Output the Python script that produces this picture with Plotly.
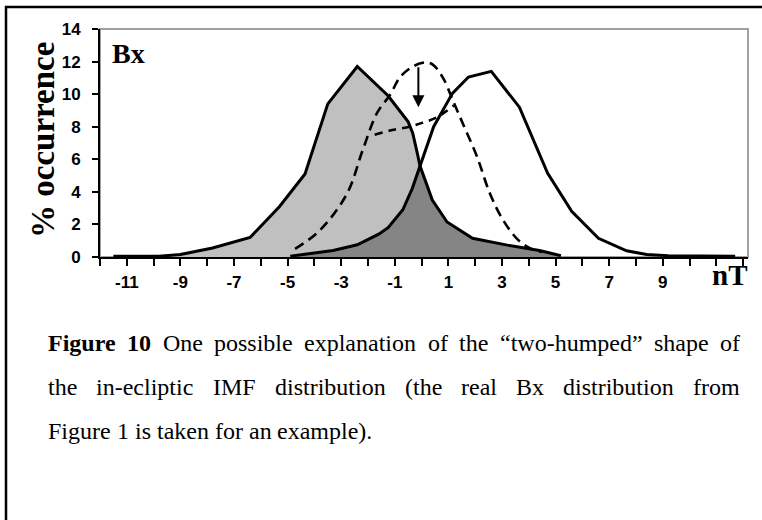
import numpy as np
import plotly.graph_objects as go

# ---- data ----
left_x = [-11.5, -9.8, -9.0, -7.8, -6.4, -5.3, -4.35, -3.5, -2.4, -1.25, -0.5, -0.33, -0.15, -0.06, 0.4, 0.95, 1.9, 3.2, 4.4, 5.2]
left_y = [0.05, 0.05, 0.15, 0.55, 1.2, 3.1, 5.1, 9.4, 11.7, 9.9, 8.3, 7.6, 6.3, 5.6, 3.5, 2.15, 1.15, 0.73, 0.4, 0.08]

right_x = [-4.9, -3.3, -2.4, -2.0, -1.6, -1.25, -0.92, -0.7, -0.35, -0.06, 0.45, 1.15, 1.75, 2.6, 3.65, 4.7, 5.6, 6.6, 7.65, 8.4, 9.2, 11.7]
right_y = [0.05, 0.4, 0.75, 1.05, 1.4, 1.8, 2.5, 2.9, 4.2, 5.6, 8.0, 10.05, 11.05, 11.4, 9.2, 5.15, 2.8, 1.15, 0.38, 0.15, 0.08, 0.05]

hump_x = [-4.72, -3.79, -2.78, -2.19, -1.66, -1.18, -0.8, -0.32, 0.15, 0.43, 0.8, 1.17, 1.55, 2.07, 2.55, 3.04, 3.6, 4.04, 4.5]
hump_y = [0.5, 1.65, 3.9, 6.6, 8.85, 9.95, 11.05, 11.7, 11.95, 11.8, 11.0, 9.6, 8.15, 6.15, 3.9, 2.27, 1.05, 0.55, 0.3]

dip_x = [-1.75, -1.1, -0.45, 0.05, 0.6, 1.2]
dip_y = [7.5, 7.8, 8.0, 8.25, 8.6, 9.3]

arrow_x = -0.12
arrow_from = 11.75
arrow_to = 9.2

x_ticks = [-11, -9, -7, -5, -3, -1, 1, 3, 5, 7, 9]
x_minor = list(range(-12, 13))
y_ticks = [0, 2, 4, 6, 8, 10, 12, 14]

caption_lines = [
    [("Figure", True), ("10", True), ("One", False), ("possible", False), ("explanation", False),
     ("of", False), ("the", False), ("\u201ctwo-humped\u201d", False), ("shape", False), ("of", False)],
    [("the", False), ("in-ecliptic", False), ("IMF", False), ("distribution", False), ("(the", False),
     ("real", False), ("Bx", False), ("distribution", False), ("from", False)],
    [("Figure", False), ("1", False), ("is", False), ("taken", False), ("for", False), ("an", False),
     ("example).", False)],
]

# ---- layout geometry (pixels) ----
W, H = 762, 520
L, R, T, B = 100, 748, 29, 257
pw, ph = R - L, B - T


def px(xp):
    return (xp - L) / pw


def py(yp):
    return (B - yp) / ph


fig = go.Figure()

# light grey area under left distribution
fig.add_trace(go.Scatter(x=left_x, y=left_y, mode="lines", fill="tozeroy",
                         fillcolor="#c0c0c0", line=dict(color="rgba(0,0,0,0)", width=0),
                         hoverinfo="skip", showlegend=False))
# dark grey overlap
g = np.linspace(max(left_x[0], right_x[0]), min(left_x[-1], right_x[-1]), 800)
ov = np.minimum(np.interp(g, left_x, left_y), np.interp(g, right_x, right_y))
fig.add_trace(go.Scatter(x=g, y=ov, mode="lines", fill="tozeroy", fillcolor="#858585",
                         line=dict(color="rgba(0,0,0,0)", width=0), hoverinfo="skip", showlegend=False))
# outlines
fig.add_trace(go.Scatter(x=right_x, y=right_y, mode="lines", line=dict(color="black", width=3),
                         showlegend=False))
fig.add_trace(go.Scatter(x=left_x, y=left_y, mode="lines", line=dict(color="black", width=3),
                         showlegend=False))
fig.add_trace(go.Scatter(x=hump_x, y=hump_y, mode="lines", line_shape="spline",
                         line=dict(color="black", width=2.6, dash="10px,6px"), showlegend=False))
fig.add_trace(go.Scatter(x=dip_x, y=dip_y, mode="lines", line_shape="spline",
                         line=dict(color="black", width=2.6, dash="8px,6px"), showlegend=False))

ann = []
ann.append(dict(x=arrow_x, y=arrow_to, ax=arrow_x, ay=arrow_from, xref="x", yref="y",
                axref="x", ayref="y", text="", showarrow=True, arrowhead=2, arrowsize=1.2,
                arrowwidth=2, arrowcolor="black"))
ann.append(dict(x=px(110), y=py(53.5), xref="paper", yref="paper", xanchor="left", yanchor="middle",
                text="<b>Bx</b>", showarrow=False,
                font=dict(family="Liberation Serif", size=28, color="black")))
ann.append(dict(x=px(749), y=py(275), xref="paper", yref="paper", xanchor="right", yanchor="middle",
                text="<b>nT</b>", showarrow=False,
                font=dict(family="Liberation Serif", size=29, color="black")))
ann.append(dict(x=px(43), y=py(140), xref="paper", yref="paper", xanchor="center", yanchor="middle",
                text="<b>% occurrence</b>", textangle=-90, showarrow=False,
                font=dict(family="Liberation Serif", size=33, color="black")))

# caption with justified lines (Times metrics, Liberation Serif is metric compatible)
REG = {' ': 250, '(': 333, ')': 333, '-': 333, '.': 250, '0': 500, '1': 500, 'B': 667, 'F': 556,
       'I': 333, 'M': 889, 'O': 722, 'a': 444, 'b': 500, 'c': 444, 'd': 500, 'e': 444, 'f': 333,
       'g': 500, 'h': 500, 'i': 278, 'k': 500, 'l': 278, 'm': 778, 'n': 500, 'o': 500, 'p': 500,
       'r': 333, 's': 389, 't': 278, 'u': 500, 'w': 722, 'x': 500, '\u201c': 444, '\u201d': 444}
BOLD = {'F': 611, 'i': 278, 'g': 500, 'u': 556, 'r': 444, 'e': 444, '1': 500, '0': 500, ' ': 250}
FS = 24
XL, XR = 47, 739
baselines = [351, 395, 439]


def wwidth(word, bold):
    tab = BOLD if bold else REG
    return sum(tab.get(c, 500) for c in word) * FS / 1000.0


for li, words in enumerate(caption_lines):
    widths = [wwidth(w, b) for w, b in words]
    if li < 2:
        gap = (XR - XL - sum(widths)) / (len(words) - 1)
    else:
        gap = 250 * FS / 1000.0
    xcur = XL
    yc = baselines[li] - 0.3375 * FS
    for (w, b), wd in zip(words, widths):
        ann.append(dict(x=px(xcur - 1), y=py(yc), xref="paper", yref="paper", xanchor="left",
                        yanchor="middle", text=("<b>%s</b>" % w) if b else w, showarrow=False,
                        font=dict(family="Liberation Serif", size=FS, color="black")))
        xcur += wd + gap

shapes = [
    dict(type="rect", xref="paper", yref="paper", x0=0, y0=0, x1=1, y1=1,
         line=dict(color="#a0a0a0", width=2), layer="below"),
    dict(type="line", xref="paper", yref="paper", x0=px(5), x1=px(770), y0=py(7), y1=py(7),
         line=dict(color="black", width=2.5)),
    dict(type="line", xref="paper", yref="paper", x0=px(6), x1=px(6), y0=py(6), y1=py(530),
         line=dict(color="black", width=2.5)),
]

fig.update_layout(
    width=W, height=H, margin=dict(l=L, r=W - R, t=T, b=H - B, pad=0),
    paper_bgcolor="white", plot_bgcolor="white", showlegend=False,
    annotations=ann, shapes=shapes,
    xaxis=dict(range=[-12, 12.18], tickmode="array", tickvals=x_ticks,
               ticktext=[str(v) for v in x_ticks], ticks="outside", ticklen=7, tickwidth=2,
               tickcolor="black", showline=True, linecolor="black", linewidth=2,
               showgrid=False, zeroline=False, ticklabelstandoff=2,
               minor=dict(tickmode="array", tickvals=x_minor, ticks="outside", ticklen=7,
                          tickwidth=2, tickcolor="black"),
               tickfont=dict(family="Liberation Sans", size=17, color="black", weight="bold")),
    yaxis=dict(range=[0, 14], tickmode="array", tickvals=y_ticks, ticks="outside", ticklen=6,
               tickwidth=2, tickcolor="black", showline=True, linecolor="black", linewidth=2,
               showgrid=False, zeroline=False, ticklabelstandoff=8,
               tickfont=dict(family="Liberation Sans", size=17, color="black", weight="bold")),
)

fig.write_html("out.html")
